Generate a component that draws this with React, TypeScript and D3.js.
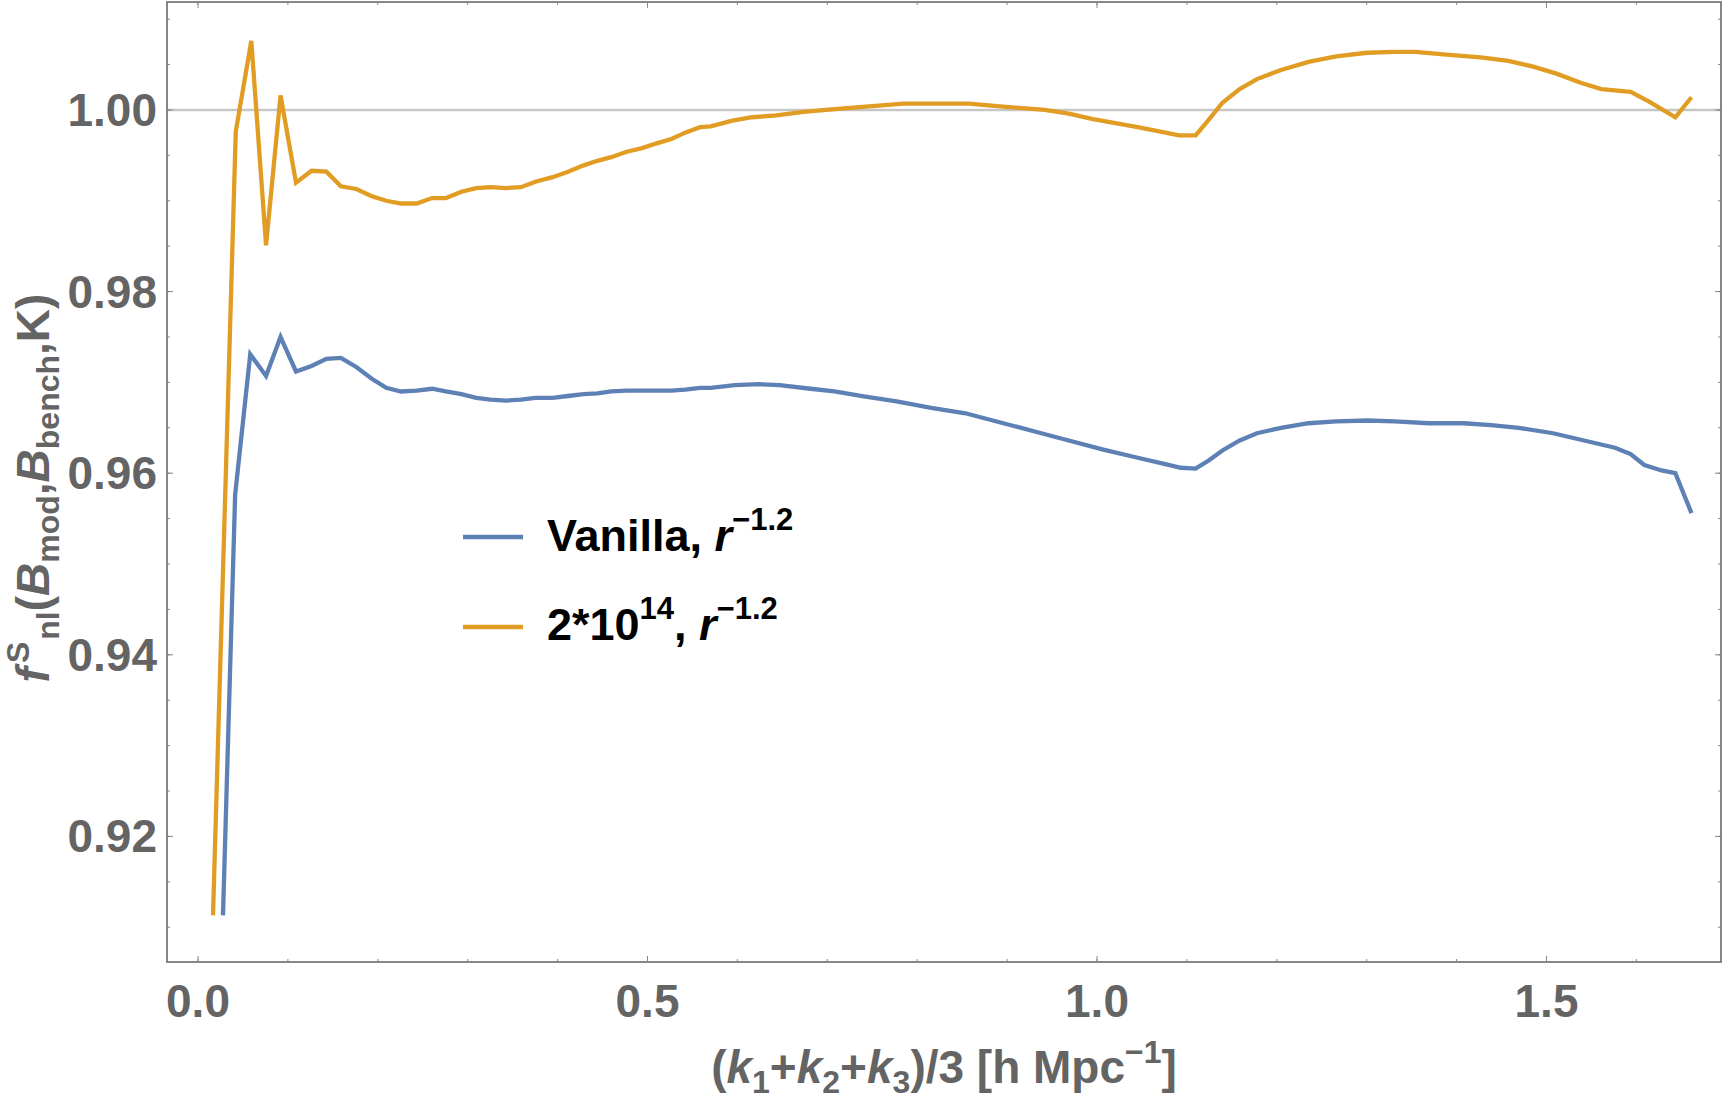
import * as d3 from "d3";

// k values (h/Mpc) and f values
const kModel = [
  0.0167, 0.042, 0.0593, 0.0757, 0.0918, 0.109, 0.1263, 0.1428, 0.1589, 0.1761,
  0.1933, 0.2094, 0.2259, 0.2432, 0.2604, 0.2757, 0.293, 0.3095, 0.3255, 0.3427,
  0.3592, 0.3753, 0.3944, 0.4117, 0.4289, 0.4443, 0.4596, 0.4769, 0.4941, 0.5093,
  0.5266, 0.5419, 0.5584, 0.5703, 0.5932, 0.6163, 0.6431, 0.6738, 0.7081, 0.7465,
  0.7848, 0.8155, 0.8576, 0.8921, 0.9418, 0.9686, 0.9955, 1.0453, 1.0912, 1.1097,
  1.1242, 1.1395, 1.1587, 1.1779, 1.2047, 1.2353, 1.266, 1.3004, 1.3311, 1.3541,
  1.3886, 1.4268, 1.4575, 1.4843, 1.5111, 1.538, 1.561, 1.5936, 1.6146, 1.6433,
  1.6613,
];
const fModel = [
  0.9113, 0.9976, 1.0076, 0.9851, 1.0016, 0.992, 0.9933, 0.9932, 0.9916, 0.9913,
  0.9905, 0.99, 0.9897, 0.9897, 0.9903, 0.9903, 0.991, 0.9914, 0.9915, 0.9914,
  0.9915, 0.9921, 0.9926, 0.9932, 0.9939, 0.9944, 0.9948, 0.9954, 0.9958, 0.9963,
  0.9968, 0.9975, 0.9981, 0.9982, 0.9988, 0.9992, 0.9994, 0.9998, 1.0001, 1.0004,
  1.0007, 1.0007, 1.0007, 1.0004, 1.0, 0.9996, 0.999, 0.9981, 0.9972, 0.9972,
  0.9989, 1.0008, 1.0023, 1.0034, 1.0044, 1.0053, 1.0059, 1.0063, 1.0064, 1.0064,
  1.0061, 1.0058, 1.0054, 1.0048, 1.004, 1.003, 1.0023, 1.002, 1.0009, 0.9992,
  1.0014,
];

const kVanilla = [
  0.0278, 0.0413, 0.0581, 0.0757, 0.0918, 0.109, 0.1263, 0.1428, 0.1589, 0.1761,
  0.1933, 0.2094, 0.2259, 0.2432, 0.2604, 0.2757, 0.293, 0.3095, 0.3255, 0.3427,
  0.3592, 0.3753, 0.3944, 0.4117, 0.4289, 0.4443, 0.4596, 0.4769, 0.4941, 0.5093,
  0.5266, 0.5419, 0.5584, 0.5703, 0.5971, 0.6239, 0.6469, 0.6813, 0.7081, 0.7388,
  0.7771, 0.8155, 0.8537, 0.8768, 0.9074, 0.938, 0.9686, 1.007, 1.0453, 1.076,
  1.0932, 1.1097, 1.1242, 1.1395, 1.1587, 1.1779, 1.2047, 1.2353, 1.266, 1.3004,
  1.3311, 1.3694, 1.4077, 1.4384, 1.469, 1.5073, 1.5417, 1.5762, 1.5936, 1.6088,
  1.628, 1.6433, 1.6613,
];
const fVanilla = [
  0.9113, 0.9576, 0.9731, 0.9707, 0.975, 0.9712, 0.9718, 0.9726, 0.9727, 0.9717,
  0.9704, 0.9694, 0.969, 0.9691, 0.9693, 0.969, 0.9687, 0.9683, 0.9681, 0.968,
  0.9681, 0.9683, 0.9683, 0.9685, 0.9687, 0.9688, 0.969, 0.9691, 0.9691, 0.9691,
  0.9691, 0.9692, 0.9694, 0.9694, 0.9697, 0.9698, 0.9697, 0.9693, 0.969, 0.9685,
  0.9679, 0.9672, 0.9666, 0.966, 0.9652, 0.9644, 0.9636, 0.9626, 0.9617, 0.961,
  0.9606, 0.9605, 0.9614, 0.9625, 0.9636, 0.9644, 0.965, 0.9655, 0.9657, 0.9658,
  0.9657, 0.9655, 0.9655, 0.9653, 0.965, 0.9644, 0.9636, 0.9628, 0.9621, 0.9609,
  0.9603, 0.96, 0.9556,
];

const xTicks = [0, 0.5, 1.0, 1.5];
const xTickLabels = ["0.0", "0.5", "1.0", "1.5"];
const yTicks = [0.92, 0.94, 0.96, 0.98, 1.0];
const yTickLabels = ["0.92", "0.94", "0.96", "0.98", "1.00"];

const W = 1728;
const H = 1099;
const left = 167;
const right = 1721;
const top = 2;
const bottom = 962;

const FONT = "'Liberation Sans', Arial, Helvetica, sans-serif";
const GREY = "#646464";
const BLUE = "#5E81B5";
const ORANGE = "#E19C24";

export default function App() {
  const x = d3.scaleLinear().domain([-0.03448, 1.6941]).range([left, right]);
  const y = d3.scaleLinear().domain([0.90617, 1.01189]).range([bottom, top]);

  const line = d3
    .line<[number, number]>()
    .x((d) => x(d[0]))
    .y((d) => y(d[1]));

  const modelPts = kModel.map((k, i) => [k, fModel[i]] as [number, number]);
  const vanillaPts = kVanilla.map((k, i) => [k, fVanilla[i]] as [number, number]);

  const xMinor = d3.range(0, 1.7, 0.1);
  const yMinor = d3.range(0.91, 1.0101, 0.005);

  return (
    <svg
      width={W}
      height={H}
      style={{ position: "absolute", left: 0, top: 0, background: "#fff" }}
      fontFamily={FONT}
      fontWeight="bold"
    >
      <defs>
        <clipPath id="plot">
          <rect x={left} y={top} width={right - left} height={bottom - top} />
        </clipPath>
      </defs>

      {/* reference line at 1 */}
      <line x1={left} x2={right} y1={y(1)} y2={y(1)} stroke="#c6c6c6" strokeWidth={2.6} />

      <g clipPath="url(#plot)" fill="none" strokeWidth={4.3}>
        <path d={line(vanillaPts) ?? ""} stroke={BLUE} />
        <path d={line(modelPts) ?? ""} stroke={ORANGE} />
      </g>

      {/* frame + ticks */}
      <rect
        x={left}
        y={top}
        width={right - left}
        height={bottom - top}
        fill="none"
        stroke="#6a6a6a"
        strokeWidth={1.6}
      />
      <g stroke="#888" strokeWidth={1}>
        {xMinor.map((t, i) => (
          <g key={"xm" + i}>
            <line x1={x(t)} x2={x(t)} y1={bottom} y2={bottom - 3} />
            <line x1={x(t)} x2={x(t)} y1={top} y2={top + 3} />
          </g>
        ))}
        {xTicks.map((t, i) => (
          <g key={"xM" + i}>
            <line x1={x(t)} x2={x(t)} y1={bottom} y2={bottom - 6} />
            <line x1={x(t)} x2={x(t)} y1={top} y2={top + 6} />
          </g>
        ))}
        {yMinor.map((t, i) => (
          <g key={"ym" + i}>
            <line x1={left} x2={left + 3} y1={y(t)} y2={y(t)} />
            <line x1={right} x2={right - 3} y1={y(t)} y2={y(t)} />
          </g>
        ))}
        {yTicks.map((t, i) => (
          <g key={"yM" + i}>
            <line x1={left} x2={left + 6} y1={y(t)} y2={y(t)} />
            <line x1={right} x2={right - 6} y1={y(t)} y2={y(t)} />
          </g>
        ))}
      </g>

      {/* tick labels */}
      <g fill={GREY} fontSize={46}>
        {xTicks.map((t, i) => (
          <text key={"xl" + i} x={x(t)} y={1017} textAnchor="middle">
            {xTickLabels[i]}
          </text>
        ))}
        {yTicks.map((t, i) => (
          <text key={"yl" + i} x={157} y={y(t) + 16} textAnchor="end">
            {yTickLabels[i]}
          </text>
        ))}
      </g>

      {/* x axis title */}
      <text x={(left + right) / 2} y={1083} textAnchor="middle" fill={GREY} fontSize={46}>
        <tspan>(</tspan>
        <tspan fontStyle="italic">k</tspan>
        <tspan fontSize={32} dy={10}>1</tspan>
        <tspan dy={-10}>+</tspan>
        <tspan fontStyle="italic">k</tspan>
        <tspan fontSize={32} dy={10}>2</tspan>
        <tspan dy={-10}>+</tspan>
        <tspan fontStyle="italic">k</tspan>
        <tspan fontSize={32} dy={10}>3</tspan>
        <tspan dy={-10}>)/3 [h Mpc</tspan>
        <tspan fontSize={32} dy={-20}>−1</tspan>
        <tspan dy={20}>]</tspan>
      </text>

      {/* y axis title */}
      <g transform={`translate(49, ${(top + bottom) / 2 + 6}) rotate(-90)`}>
        <text x={0} y={0} textAnchor="middle" fill={GREY} fontSize={46}>
          <tspan fontStyle="italic">f</tspan>
          <tspan fontSize={32} dy={-20} dx={4}>S</tspan>
          <tspan fontSize={32} dy={30} dx={2}>nl</tspan>
          <tspan dy={-10}>(</tspan>
          <tspan fontStyle="italic">B</tspan>
          <tspan fontSize={32} dy={10}>mod</tspan>
          <tspan dy={-10}>,</tspan>
          <tspan fontStyle="italic">B</tspan>
          <tspan fontSize={32} dy={10}>bench</tspan>
          <tspan dy={-10}>,K)</tspan>
        </text>
      </g>

      {/* legend */}
      <g fontSize={45} fill="#000">
        <line x1={463} x2={523} y1={537} y2={537} stroke={BLUE} strokeWidth={4.3} />
        <text x={547} y={551}>
          <tspan>Vanilla, </tspan>
          <tspan fontStyle="italic">r</tspan>
          <tspan fontSize={31} dy={-21}>−1.2</tspan>
        </text>
        <line x1={463} x2={523} y1={627} y2={627} stroke={ORANGE} strokeWidth={4.3} />
        <text x={547} y={640}>
          <tspan>2*10</tspan>
          <tspan fontSize={31} dy={-21}>14</tspan>
          <tspan dy={21}>, </tspan>
          <tspan fontStyle="italic">r</tspan>
          <tspan fontSize={31} dy={-21}>−1.2</tspan>
        </text>
      </g>
    </svg>
  );
}
